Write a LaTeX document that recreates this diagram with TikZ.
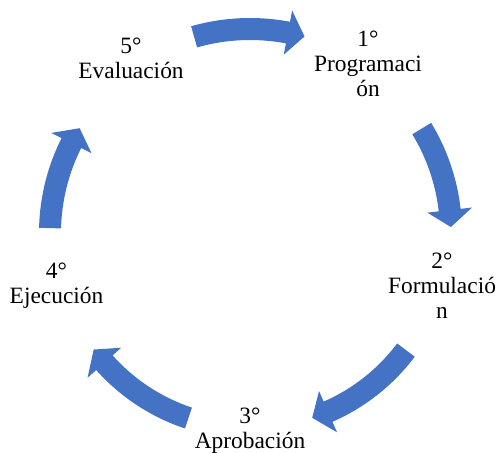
\documentclass[tikz,border=0pt]{standalone}
\usepackage{fontspec}
\setmainfont{Liberation Serif}
\definecolor{sablue}{HTML}{4472C4}
\tikzset{
  lbl/.style={font=\fontsize{23.4}{25}\selectfont, inner sep=0pt, anchor=base},
  cyc/.style={fill=sablue, draw=none}
}
\newcommand{\lines}[1]{\begin{tabular}[t]{@{}c@{}}#1\end{tabular}}
% #1 start angle, #2 tip angle, #3 radius
\newcommand{\cycarrow}[3]{%
  \pgfmathsetmacro\cyB{#2+17/#3*180/pi}%
  \pgfmathsetmacro\cyRo{#3+11}\pgfmathsetmacro\cyRi{#3-11}%
  \pgfmathsetmacro\cyHo{#3+22.5}\pgfmathsetmacro\cyHi{#3-22.5}%
  \fill[cyc] (#1:\cyRo) arc[start angle=#1, end angle=\cyB, radius=\cyRo]
    -- (\cyB:\cyHo) -- (#2:#3) -- (\cyB:\cyHi) -- (\cyB:\cyRi)
    arc[start angle=\cyB, end angle=#1, radius=\cyRi] -- cycle;}
\begin{document}
\begin{tikzpicture}[x=1pt,y=1pt]
\path[use as bounding box] (0,0) rectangle (497,-452);
\coordinate (C) at (250,-233);
% labels
\node[lbl] (n1) at (368,-46.7) {\lines{1°\\Programaci\\ón}};
\node[lbl] (n2) at (442,-268) {\lines{2°\\Formulació\\n}};
\node[lbl] (n3) at (250,-423) {\lines{3°\\Aprobación}};
\node[lbl] (n4) at (56.5,-278) {\lines{4°\\Ejecución}};
\node[lbl] (n5) at (131,-53) {\lines{5°\\Evaluación}};
% arrows
\begin{scope}[shift={(C)}]
\cycarrow{105.9}{74.5}{204}
\cycarrow{31.3}{1.7}{201}
\cycarrow{-36.9}{-71.4}{195}
\cycarrow{-108.4}{-143.3}{195}
\cycarrow{178.6}{148.4}{200}
\end{scope}
\end{tikzpicture}
\end{document}
